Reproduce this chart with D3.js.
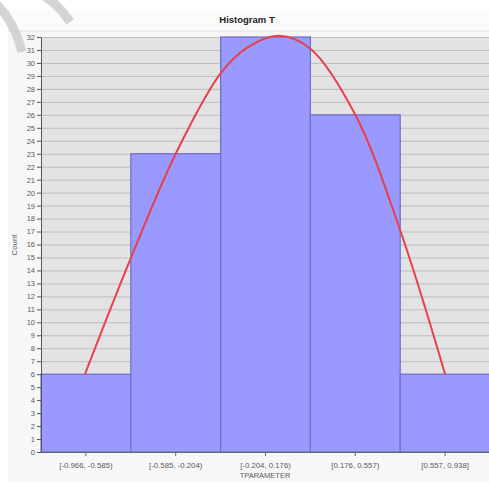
<!DOCTYPE html>
<html>
<head>
<meta charset="utf-8">
<script src="https://cdn.jsdelivr.net/npm/d3@7"></script>
<style>
  body { margin: 0; background: #fff; }
  svg { display: block; font-family: "Liberation Sans", Arial, sans-serif; }
</style>
</head>
<body>
<script>
// bins and counts
const bins = ['[-0.966, -0.585)', '[-0.585, -0.204)', '[-0.204, 0.176)', '[0.176, 0.557)', '[0.557, 0.938]'];
const counts = [6, 23, 32, 26, 6];
// fitted curve, read as [position in bin units, count]
const curvePts = [[0.49, 6], [0.98, 14.6], [1.5, 23], [2.0, 29.2], [2.3, 31.2], [2.65, 32.1], [3.0, 31.1], [3.5, 26], [4.0, 17.1], [4.5, 6]];
const yTicks = d3.range(0, 33);

const W = 489, H = 482;
const plot = { left: 41, right: 490, top: 37, bottom: 452 };

const svg = d3.select('body').append('svg')
  .attr('width', W)
  .attr('height', H);

// panel
svg.append('rect').attr('x', 8).attr('y', 10).attr('width', W - 8).attr('height', H - 10)
  .attr('fill', '#f7f7f7');
svg.append('rect').attr('x', 8).attr('y', 10).attr('width', W - 8).attr('height', 21)
  .attr('fill', '#fbfbfb');
svg.append('line').attr('x1', 8).attr('x2', W).attr('y1', 31).attr('y2', 31)
  .attr('stroke', '#e4e4e4');

// watermark-ish swooshes in the corner
svg.append('path').attr('d', 'M-6,2 Q14,20 22,52')
  .attr('fill', 'none').attr('stroke', '#d4d4d4').attr('stroke-width', 9);
svg.append('path').attr('d', 'M44,-4 Q60,6 70,22')
  .attr('fill', 'none').attr('stroke', '#d4d4d4').attr('stroke-width', 9);

svg.append('text')
  .attr('x', 247).attr('y', 23)
  .attr('text-anchor', 'middle')
  .attr('font-size', 9.5).attr('font-weight', 'bold')
  .attr('fill', '#222')
  .text('Histogram T');

const x = d3.scaleLinear().domain([0, bins.length]).range([plot.left, plot.right]);
const xb = d3.scaleBand().domain(bins).range([plot.left, plot.right]);
const y = d3.scaleLinear().domain([0, 32]).range([plot.bottom, plot.top]);

svg.append('rect')
  .attr('x', plot.left).attr('y', plot.top)
  .attr('width', plot.right - plot.left).attr('height', plot.bottom - plot.top)
  .attr('fill', '#e3e3e3');

svg.append('g')
  .selectAll('line')
  .data(yTicks.slice(1))
  .join('line')
  .attr('x1', plot.left).attr('x2', plot.right)
  .attr('y1', d => y(d) + 0.5).attr('y2', d => y(d) + 0.5)
  .attr('stroke', '#bebebe');

svg.append('g')
  .selectAll('rect')
  .data(counts)
  .join('rect')
  .attr('x', (d, i) => xb(bins[i]))
  .attr('width', xb.bandwidth())
  .attr('y', d => y(d))
  .attr('height', d => y(0) - y(d))
  .attr('fill', '#9999ff')
  .attr('stroke', '#6e6ec4')
  .attr('stroke-width', 1.2);

svg.append('path')
  .datum(curvePts)
  .attr('d', d3.line().x(d => x(d[0])).y(d => y(d[1])).curve(d3.curveCatmullRom))
  .attr('fill', 'none')
  .attr('stroke', '#e8404a')
  .attr('stroke-width', 2);

const yAxis = svg.append('g')
  .attr('transform', `translate(${plot.left},0)`)
  .call(d3.axisLeft(y).tickValues(yTicks).tickSize(4).tickPadding(2));
yAxis.select('.domain').attr('stroke', '#555');
yAxis.selectAll('.tick line').attr('stroke', '#555');
yAxis.selectAll('text').attr('font-size', 7.5).attr('fill', '#5a5a5a')
  .attr('font-family', '"Liberation Sans", Arial, sans-serif');

const xAxis = svg.append('g')
  .attr('transform', `translate(0,${plot.bottom})`)
  .call(d3.axisBottom(xb).tickSize(4).tickPadding(6).tickSizeOuter(0));
xAxis.select('.domain').attr('stroke', '#666');
xAxis.selectAll('.tick line').attr('stroke', '#666');
xAxis.selectAll('text').attr('font-size', 7.8).attr('fill', '#5a5a5a')
  .attr('font-family', '"Liberation Sans", Arial, sans-serif');

svg.append('text')
  .attr('x', 265).attr('y', 478)
  .attr('text-anchor', 'middle')
  .attr('font-size', 7.5).attr('fill', '#5a5a5a')
  .text('TPARAMETER');

svg.append('text')
  .attr('transform', 'translate(17,245) rotate(-90)')
  .attr('text-anchor', 'middle')
  .attr('font-size', 7.8).attr('fill', '#5a5a5a')
  .text('Count');
</script>
</body>
</html>
